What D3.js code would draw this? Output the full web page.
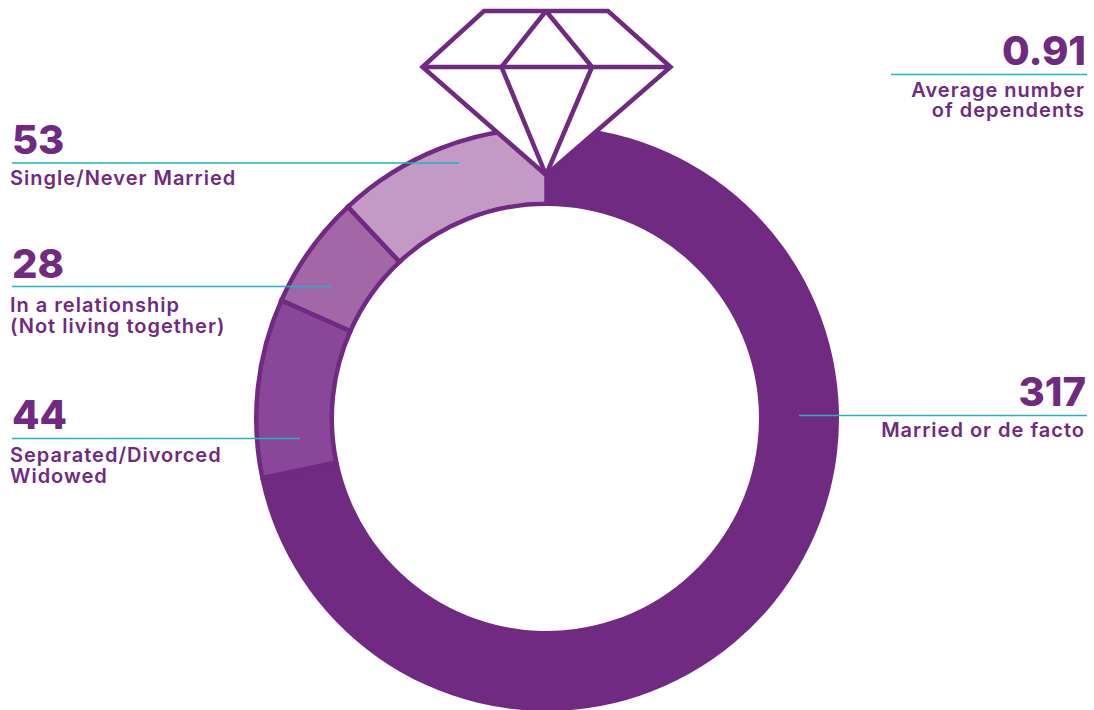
<!DOCTYPE html>
<html>
<head>
<meta charset="utf-8">
<script src="https://cdn.jsdelivr.net/npm/d3@7"></script>
<style>
html, body { margin: 0; background: #fff; overflow: hidden; }
svg { display: block; }
text { font-family: Inter, "Open Sans", sans-serif; fill: #702a81; }
.num { font-size: 40px; font-weight: 800; }
.lab { font-size: 20px; font-weight: 600; letter-spacing: 1px; }
</style>
</head>
<body>
<svg id="chart" width="1094" height="710"></svg>
<script>
// Household status counts, clockwise from twelve o'clock
const categories = ["Married or de facto", "Separated/Divorced Widowed", "In a relationship (Not living together)", "Single/Never Married"];
const counts = [317, 44, 28, 53];
const sliceColours = ["#702a81", "#8a4799", "#a367a8", "#c39ac6"];
const averageDependents = 0.91;

// Annotation text, wrapped by line
const labelLines = [["Married or de facto"], ["Separated/Divorced", "Widowed"], ["In a relationship", "(Not living together)"], ["Single/Never Married"]];
const averageLines = ["Average number", "of dependents"];

// Annotation layout: rule from x0 to x1 at y, number and label baselines
const sliceNotes = [
  { x0: 799, x1: 1087, y: 415.5, numY: 406, labY: 437, lineH: 21, anchor: "end" },
  { x0: 12, x1: 300, y: 438.5, numY: 429, labY: 462, lineH: 21, anchor: "start" },
  { x0: 12, x1: 332, y: 286.5, numY: 278, labY: 312, lineH: 21, anchor: "start" },
  { x0: 12, x1: 459, y: 163, numY: 154, labY: 185, lineH: 21, anchor: "start" }
];
const averageNote = { x0: 891, x1: 1087, y: 74.5, numY: 65, labY: 97, lineH: 20, anchor: "end" };

const ink = "#702a81";
const ruleColour = "#1fb4c3";
const cx = 546.5, cy = 418.5, outerR = 292.5, innerR = 212.5, edge = 4.5;

const svg = d3.select("#chart");
const ring = svg.append("g").attr("transform", `translate(${cx},${cy})`);

const slices = d3.pie().sort(null).value(d => d)(counts);
const solidArc = d3.arc().innerRadius(innerR).outerRadius(outerR);
const insetArc = d3.arc().innerRadius(innerR + edge / 2).outerRadius(outerR - edge / 2);

// The large slice is flat; the others carry a dark edge kept inside the ring
ring.selectAll("path").data(slices).join("path")
  .attr("d", (d, i) => i === 0 ? solidArc(d) : insetArc(d))
  .attr("fill", (d, i) => sliceColours[i])
  .attr("stroke", (d, i) => i === 0 ? "none" : ink)
  .attr("stroke-width", edge)
  .attr("stroke-linejoin", "miter");

// Gemstone set on top of the ring
const gem = {
  topL: [484, 11], topM: [546, 11], topR: [608, 11],
  left: [422.5, 67], midL: [501.5, 67], midR: [592, 67], right: [670.5, 67],
  apex: [546, 175]
};
const gemLine = d3.line();
const gemG = svg.append("g").attr("fill", "none").attr("stroke", ink).attr("stroke-width", edge).attr("stroke-linejoin", "miter");
gemG.append("path")
  .attr("d", gemLine([gem.topL, gem.topR, gem.right, gem.apex, gem.left]) + "Z")
  .attr("fill", "#fff");
[[gem.left, gem.right], [gem.midL, gem.topM], [gem.topM, gem.midR], [gem.midL, gem.apex], [gem.apex, gem.midR]].forEach(seg => {
  gemG.append("path").attr("d", gemLine(seg));
});

// One annotation: number, teal rule, a label block of one or two lines
function note(layout, number, lines) {
  const isEnd = layout.anchor === "end";
  svg.append("line")
    .attr("x1", layout.x0).attr("x2", layout.x1)
    .attr("y1", layout.y).attr("y2", layout.y)
    .attr("stroke", ruleColour).attr("stroke-width", 1.3);
  svg.append("text").attr("class", "num")
    .attr("x", isEnd ? layout.x1 - 1 : layout.x0).attr("y", layout.numY)
    .attr("text-anchor", layout.anchor).text(number);
  const labelX = isEnd ? layout.x1 - 2 : layout.x0 - 2;
  svg.append("text").attr("class", "lab")
    .attr("text-anchor", layout.anchor)
    .selectAll("tspan").data(lines).join("tspan")
    .attr("x", labelX)
    .attr("y", (d, i) => layout.labY + i * layout.lineH)
    .text(d => d);
}

counts.forEach((v, i) => note(sliceNotes[i], v, labelLines[i]));
note(averageNote, averageDependents, averageLines);
</script>
</body>
</html>
